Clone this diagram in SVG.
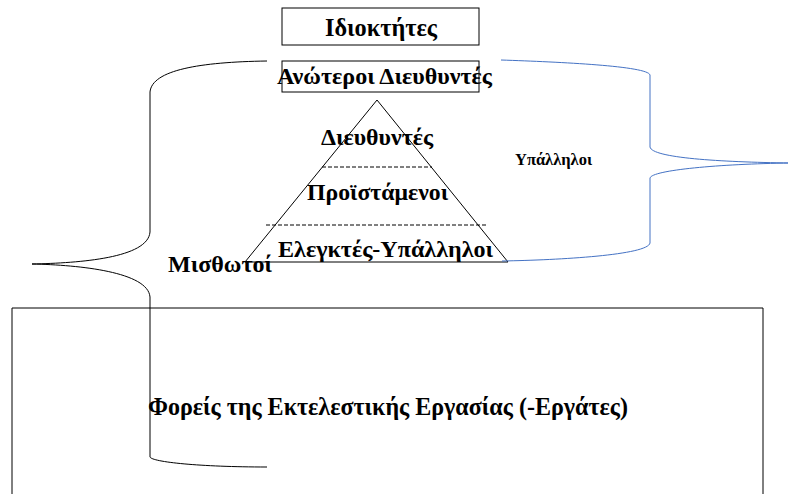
<svg xmlns="http://www.w3.org/2000/svg" width="788" height="494" viewBox="0 0 788 494">
<style>
text{font-family:"Liberation Serif","Times New Roman",serif;font-weight:bold;fill:#000}
.box{fill:none;stroke:#000;stroke-width:1}
.ln{fill:none;stroke:#000;stroke-width:1}
.dash{fill:none;stroke:#000;stroke-width:1;stroke-dasharray:4 2}
.blue{fill:none;stroke:#4472C4;stroke-width:1}
</style>
<rect width="788" height="494" fill="#fff"/>
<g id="workers">
<path class="box" d="M12 494 V308 H763 V494" stroke="#333"/>
<text x="148" y="415" font-size="25" textLength="480" lengthAdjust="spacingAndGlyphs">Φορείς της Εκτελεστικής Εργασίας (-Εργάτες)</text>
</g>
<g id="owners">
<rect class="box" x="282" y="8" width="197" height="37"/>
<text x="325" y="36" font-size="25" textLength="112" lengthAdjust="spacingAndGlyphs">Ιδιοκτήτες</text>
</g>
<g id="pyramid">
<path class="ln" d="M377 100 L245 262 H508 Z"/>
<line class="dash" x1="322" y1="167" x2="432" y2="167"/>
<line class="dash" x1="266" y1="225" x2="487" y2="225"/>
<text x="321" y="145" font-size="24" textLength="112" lengthAdjust="spacingAndGlyphs">Διευθυντές</text>
<text x="307" y="200" font-size="24" textLength="141" lengthAdjust="spacingAndGlyphs">Προϊστάμενοι</text>
<text x="278" y="257" font-size="24" textLength="215" lengthAdjust="spacingAndGlyphs">Ελεγκτές-Υπάλληλοι</text>
</g>
<g id="senior">
<rect class="box" x="282" y="61" width="197" height="31"/>
<text x="277" y="84" font-size="24" textLength="215" lengthAdjust="spacingAndGlyphs">Ανώτεροι Διευθυντές</text>
</g>
<g id="connectors">
<path class="ln" d="M267 61 C200 62 152 70 150 92 V232 C148 258 80 263 32 264 C80 265 148 272 150 297 V457 C152 462 200 467 267 467"/>
<path class="blue" d="M501 60 C560 62 648 66 650 75 V147 C652 158 720 162 790 163 C720 164 652 170 650 178 V243 C648 255 560 260 502 261"/>
</g>
<g id="labels">
<text x="168" y="272" font-size="24" textLength="104" lengthAdjust="spacingAndGlyphs">Μισθωτοί</text>
<text x="515" y="165" font-size="16" textLength="77" lengthAdjust="spacingAndGlyphs">Υπάλληλοι</text>
</g>
</svg>
